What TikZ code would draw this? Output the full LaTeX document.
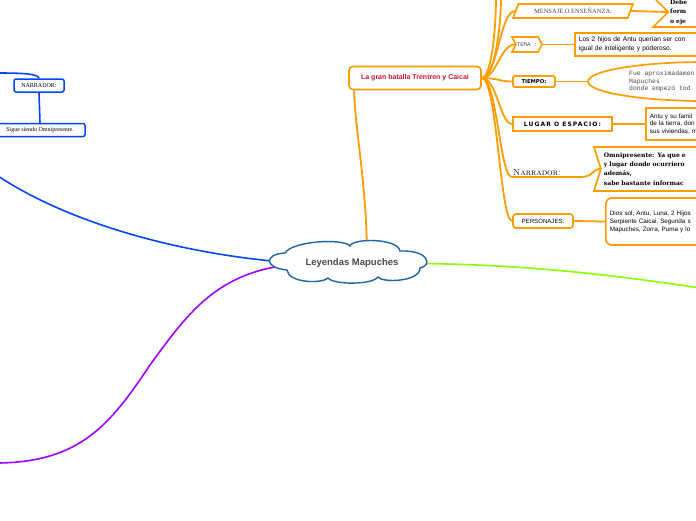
\documentclass[tikz,border=0pt]{standalone}
\usepackage{fontspec}
\usetikzlibrary{shapes.symbols,shapes.geometric}
\newfontfamily\sansf{Liberation Sans}
\newfontfamily\seriff{Liberation Serif}
\newfontfamily\monof{Liberation Mono}
\newfontfamily\heavyf{DejaVu Sans}
\newfontfamily\widef{DejaVu Sans}[LetterSpace=18]
\newfontfamily\slabf{DejaVu Serif}
\newcommand\setfs[2]{\fontsize{#1}{#2}\selectfont}
\definecolor{orng}{HTML}{FF9C00}
\definecolor{crims}{HTML}{C8173C}
\definecolor{cloudblue}{HTML}{1E64AA}
\definecolor{lblue}{HTML}{0047FF}
\definecolor{purp}{HTML}{A100FF}
\definecolor{grn}{HTML}{86FF00}
\definecolor{txtgray}{HTML}{4A4A4A}
\pgfdeclarelayer{bg}\pgfsetlayers{bg,main}
\begin{document}
\begin{tikzpicture}[x=1pt,y=-1pt,
  conn/.style={draw=orng,line width=1.8pt},
  obox/.style={draw=orng,line width=1.7pt,fill=white,inner sep=2pt},
  bconn/.style={draw=lblue,line width=1.6pt},
  bbox/.style={draw=lblue,line width=1.5pt,fill=white,rounded corners=2pt,inner sep=1.5pt,font=\seriff\setfs{6}{7}},
  rbox/.style={obox,anchor=west,align=left,inner xsep=4pt}
]
\useasboundingbox (0,0) rectangle (696,520);

% central cloud
\filldraw[fill=white,draw=cloudblue,line width=1.4pt]
  (285,253) .. controls (292,241) and (343,238) .. (350,246)
  .. controls (352,238) and (398,238) .. (400,251)
  .. controls (430,250) and (432,266) .. (420,268)
  .. controls (420,282) and (382,283) .. (378,277)
  .. controls (372,285) and (334,285) .. (328,278)
  .. controls (322,284) and (288,283) .. (287,270)
  .. controls (264,268) and (264,254) .. cycle;
\node[inner sep=1pt,font=\sansf\bfseries\setfs{9.5}{11},text=txtgray] (root) at (352,263.5) {Leyendas Mapuches};

% orange main
\node[obox,rounded corners=4pt,minimum width=132pt,minimum height=23pt,
  font=\sansf\bfseries\setfs{7}{8},text=crims] (batalla) at (415,78) {La gran batalla Trentren y Caicai};
\coordinate (rootTop) at (367,252);
\coordinate (top1) at (496,-3);
\coordinate (top2) at (501,-3);

% children
\node[obox,trapezium,trapezium left angle=63,trapezium right angle=117,trapezium stretches=true,
  minimum width=120pt,minimum height=14pt,inner sep=1pt,font=\seriff\setfs{6.5}{7},text=txtgray] (mensaje) at (573,11) {MENSAJE O ENSEÑANZA:};
\node[obox,signal,signal from=west,signal pointer angle=90,anchor=west,align=left,
  text width=60pt,minimum height=30pt,inner sep=2pt,font=\slabf\bfseries\setfs{6}{9.5}] (debe) at (667,12) {Debe\\form\\o eje};

\node[obox,signal,signal from=west,signal to=east,signal pointer angle=125,minimum height=15pt,
  minimum width=28pt,inner sep=1pt,font=\monof\setfs{5.6}{6},text=txtgray] (tema) at (527,44.5) {TEMA :};
\node[rbox,text width=140pt,minimum height=23pt,font=\sansf\setfs{6.6}{9}] (temab) at (574,44.5)
  {Los 2 hijos de Antu querían ser con\\igual de inteligente y poderoso.};

\node[obox,rounded corners=1.5pt,minimum width=42pt,minimum height=11pt,inner sep=1pt,
  font=\heavyf\bfseries\setfs{5.3}{6}] (tiempo) at (534,81.5) {TIEMPO:};
\node[draw=orng,line width=1.7pt,fill=white,ellipse,minimum width=234pt,minimum height=39pt] (tiempoe) at (705,81.5) {};
\node[anchor=west,align=left,inner sep=0pt,font=\monof\setfs{6.4}{7.5},text=txtgray] (tiempot) at (629,81.5)
  {Fue aproximadamen\\Mapuches\\donde empezó tod};

\node[obox,minimum width=99pt,minimum height=14pt,inner sep=1pt,
  font=\widef\bfseries\setfs{6}{7}] (lugar) at (562.5,124) {LUGAR O ESPACIO:};
\node[rbox,text width=120pt,minimum height=32pt,font=\sansf\setfs{6.3}{7.6}] (lugarb) at (645,124)
  {Antu y su famil\\de la tierra, don\\sus viviendas, m};

\node[anchor=south west,inner sep=1pt,font=\setfs{8.8}{9}\scshape] (narr) at (512,177) {Narrador:};
\node[obox,signal,signal from=west,signal pointer angle=145,anchor=west,align=left,
  text width=140pt,minimum height=44pt,inner xsep=3pt,font=\slabf\bfseries\setfs{6.1}{9.3}] (omni) at (600,169)
  {Omnipresente: Ya que e\\y lugar donde ocurriero\\además,\\sabe bastante informac};

\node[obox,rounded corners=3pt,minimum width=60pt,minimum height=14pt,inner sep=1pt,
  font=\sansf\setfs{6.1}{7}] (pers) at (543,221) {PERSONAJES:};
\node[rbox,rounded corners=6pt,text width=140pt,minimum height=47pt,font=\sansf\setfs{6.3}{8}] (persb) at (605,221.5)
  {Dios sol, Antu, Luna, 2 Hijos\\Serpiente Caicai, Segunda s\\Mapuches, Zorra, Puma y lo};

% blue left
\node[bbox,minimum width=50pt,minimum height=13pt] (narr2) at (39,85.5) {NARRADOR:};
\node[bbox,minimum width=90pt,minimum height=13pt] (sigue) at (40,130) {Sigue siendo Omnipresente.};
\coordinate (blueIn) at (-2,73);
\coordinate (blueOut) at (-2,176);
\coordinate (purpOut) at (-2,463);
\coordinate (grnOut) at (700,288);

\begin{pgfonlayer}{bg}
\fill[white] (0,0) rectangle (696,520);
\draw[conn] (rootTop) .. controls (366,180) and (355,130) .. ([xshift=6pt]batalla.south west);
\draw[conn] (batalla.east) .. controls (491,78) and (496,30) .. (top1);
\draw[conn] (batalla.east) .. controls (494,78) and (501,30) .. (top2);
\draw[conn] (batalla.east) .. controls (497,78) and (500,12) .. (mensaje.west);
\draw[conn] (batalla.east) .. controls (497,78) and (500,44.5) .. (tema.west);
\draw[conn] (batalla.east) .. controls (497,78) and (500,81.5) .. (tiempo.west);
\draw[conn] (batalla.east) .. controls (497,78) and (500,124) .. (lugar.west);
\draw[conn] (batalla.east) .. controls (497,78) and (500,178) .. (narr.south west)
   -- ([xshift=18pt]narr.south east) .. controls (594,177) and (592,169) .. (omni.west);
\draw[conn] (batalla.east) .. controls (497,78) and (500,221) .. (pers.west);
\draw[conn] (mensaje.east) -- (debe.west);
\draw[conn] (tema.east) -- (temab.west);
\draw[conn] (tiempo.east) -- (tiempoe.west);
\draw[conn] (lugar.east) -- (lugarb.west);
\draw[conn] (pers.east) -- (persb.west);

\draw[bconn] (blueIn) .. controls (25,73) and (38,74) .. (narr2.north);
\draw[bconn] (narr2.south) -- (sigue.north);
\draw[bconn] (root.west) .. controls (190,257) and (72,225) .. (blueOut);
\draw[draw=purp,line width=1.6pt] (root.west) .. controls (220,268) and (190,310) .. (150,365)
   .. controls (110,425) and (80,462) .. (purpOut);
\draw[draw=grn,line width=1.6pt] (root.east) .. controls (520,263) and (620,276) .. (grnOut);
\end{pgfonlayer}
\end{tikzpicture}
\end{document}
